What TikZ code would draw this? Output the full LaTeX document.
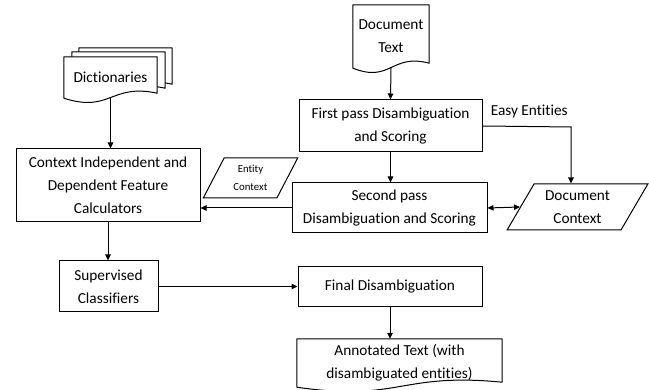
\documentclass[tikz,border=0pt]{standalone}
\usepackage{fontspec}
\setmainfont{Carlito}[Ligatures=NoCommon]
\usetikzlibrary{arrows.meta,shapes.geometric,backgrounds}

% outline of a document with a wavy bottom, drawn round node #2, shifted by #1
\newcommand{\wavydoc}[2][0,0]{%
  \draw[docstyle] ([shift={(#1)}]#2.south west) --
    ([shift={(#1)}]#2.north west) --
    ([shift={(#1)}]#2.north east) --
    ([shift={(#1)},yshift=5pt]#2.south east)
    .. controls ([shift={(#1)},yshift=15pt]#2.south)
    and ([shift={(#1)},yshift=-15pt]#2.south) .. cycle;}

\begin{document}
\begin{tikzpicture}[x = 1pt,
    y = 1pt,
    font = \fontsize{15.3}{23}\selectfont]
    % styles of boxes and arrows
    \tikzset{boxstyle/.style={draw,fill=white,line width=1pt,align=center,inner sep=2pt},
      docstyle/.style={draw,fill=white,line width=1pt,line join=round},
      datastyle/.style={boxstyle,trapezium,trapezium stretches=true},
      line/.style={line width=1pt,-{Triangle[length=6pt,width=5.5pt]}}}
    \useasboundingbox (0,0) rectangle (649,390);
    % documents
    \node[align=center,minimum width=76,minimum height=63] (doctext) at (391,353.5) {Document\\Text};
    \node[minimum width=93,minimum height=41] (dict) at (110.5,312.5) {Dictionaries};
    \node[align=center,minimum width=205,minimum height=48] (annot) at (399.5,27) {Annotated Text (with\\disambiguated entities)};
    \begin{scope}[on background layer]
      \wavydoc{doctext}
      \wavydoc[15,9]{dict}
      \wavydoc[8,5]{dict}
      \wavydoc{dict}
      \wavydoc{annot}
    \end{scope}
    % process boxes
    \node[boxstyle,minimum width=183,minimum height=52] (first) at (390.5,264) {First pass Disambiguation\\and Scoring};
    \node[boxstyle,minimum width=195,minimum height=50] (second) at (389.5,182) {Second pass\\Disambiguation and Scoring};
    \node[boxstyle,minimum width=184,minimum height=40] (final) at (390,103) {Final Disambiguation};
    \node[boxstyle,minimum width=184,minimum height=73] (ctx) at (108,204.5) {Context Independent and\\Dependent Feature\\Calculators};
    \node[boxstyle,minimum width=99,minimum height=51] (sup) at (108.5,103.5) {Supervised\\Classifiers};
    % data
    \node[datastyle,trapezium left angle=60,trapezium right angle=120,
      minimum width=141,minimum height=46] (doccontext) at (577.5,183) {Document\\Context};
    \node[datastyle,trapezium left angle=63,trapezium right angle=117,
      minimum width=95,minimum height=40,font=\fontsize{10.8}{18}\selectfont] (entity) at (250.5,212) {Entity\\Context};
    % arrows
    \coordinate (easy) at (571,263);
    \draw[line] (doctext.south) -- (first.north);
    \draw[line] (first.south) -- (first.south |- second.north);
    \draw[line] (first.east) -- node[above=5pt,xshift=2.5pt] {Easy Entities} (easy) -- (easy |- doccontext.north);
    \draw[line,{Triangle[length=6pt,width=5.5pt]}-{Triangle[length=6pt,width=5.5pt]}] (second.east) -- (doccontext.left side);
    \draw[line] (second.west) -- (second.west -| ctx.east);
    \draw[line] (dict.south) -- (dict.south |- ctx.north);
    \draw[line] (ctx.south) -- (ctx.south |- sup.north);
    \draw[line] (sup.east) -- (sup.east -| final.west);
    \draw[line] (final.south) -- (final.south |- annot.north);
  \end{tikzpicture}
\end{document}
